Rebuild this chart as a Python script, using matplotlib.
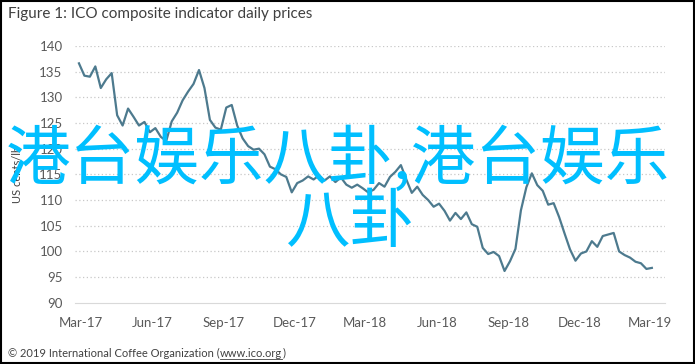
import matplotlib.pyplot as plt
import matplotlib.dates as mdates
import pandas as pd

# ICO composite indicator, weekly readings (US cents/lb)
start_date = '2017-02-27'
prices = [136.6, 134.2, 134.0, 136.0, 131.8, 133.5, 134.7, 126.5, 124.5, 127.8,
          126.2, 124.5, 125.2, 123.2, 124.0, 122.3, 121.5, 125.3, 127.0, 129.4,
          131.1, 132.6, 135.3, 131.8, 125.6, 124.1, 123.7, 128.0, 128.5, 124.5,
          122.0, 120.5, 119.8, 120.0, 118.9, 116.5, 116.0, 115.0, 114.5, 111.5,
          113.3, 113.8, 114.6, 114.0, 114.8, 113.8, 114.6, 113.5, 114.4, 113.0,
          112.4, 113.0, 112.3, 111.5, 112.0, 113.3, 112.6, 114.5, 115.5, 116.8,
          114.0, 111.4, 112.6, 111.0, 110.0, 108.7, 109.3, 107.9, 106.0, 107.5,
          106.3, 107.6, 105.3, 104.8, 100.7, 99.5, 99.9, 99.1, 96.2, 98.1,
          100.5, 108.0, 112.5, 115.2, 112.9, 111.8, 109.1, 109.4, 106.7, 103.5,
          100.4, 98.2, 99.6, 100.0, 102.0, 100.9, 103.0, 103.3, 103.6, 100.0,
          99.3, 98.8, 98.0, 97.7, 96.6, 96.8]
dates = pd.date_range(start_date, periods=len(prices), freq='7D')

y_ticks = [90, 95, 100, 105, 110, 115, 120, 125, 130, 135, 140]
x_ticks = pd.date_range('2017-03-01', '2019-03-01', freq='3MS')

plt.rcParams['font.family'] = ['Lato', 'DejaVu Sans']

fig = plt.figure(figsize=(6.95, 3.64), dpi=100)
ax = fig.add_axes([0.108, 0.168, 0.849, 0.706])

ax.plot(dates, prices, color='#4d7a8e', linewidth=1.6)

ax.set_ylim(90, 140)
ax.set_yticks(y_ticks)
ax.set_xlim(pd.Timestamp('2017-02-22'), pd.Timestamp('2019-03-21'))
ax.set_xticks(x_ticks)
ax.xaxis.set_major_formatter(mdates.DateFormatter('%b-%y'))
ax.tick_params(length=0, labelsize=9.5, labelcolor='#595959')
ax.tick_params(axis='x', pad=10)
ax.tick_params(axis='y', pad=9)

for t in y_ticks[1:]:
    ax.axhline(t, color='#c8c8c8', linestyle=(0, (1, 2)), linewidth=0.9, zorder=0)
for s in ['top', 'right', 'left']:
    ax.spines[s].set_visible(False)
ax.spines['bottom'].set_color('#d9d9d9')

ax.set_ylabel('US cents/lb', fontsize=8, color='#404040', labelpad=12)

fig.text(0.012, 0.962, 'Figure 1: ICO composite indicator daily prices',
         fontsize=11, color='#404040', va='center')
fig.text(0.012, 0.03, '\u00a9 2019 International Coffee Organization (',
         fontsize=8, color='#404040', va='center')
fig.canvas.draw()
r = fig.canvas.get_renderer()
bb = fig.texts[-1].get_window_extent(r)
x1 = bb.x1 / fig.bbox.width
link = fig.text(x1, 0.03, 'www.ico.org', fontsize=8, color='#404040', va='center')
bb2 = link.get_window_extent(r)
x2 = bb2.x1 / fig.bbox.width
fig.text(x2, 0.03, ')', fontsize=8, color='#404040', va='center')
fig.add_artist(plt.Line2D([x1, x2], [0.013, 0.013], color='#404040', linewidth=0.6))

# overlay text
cjk = ['Noto Sans CJK SC', 'DejaVu Sans']
fig.text(0.486, 0.558, '港台娱乐八卦,港台娱乐', fontsize=46.5, color='#00bfff',
         ha='center', va='center', family=cjk)
fig.text(0.505, 0.385, '八卦', fontsize=46.5, color='#00bfff',
         ha='center', va='center', family=cjk)

# frame round the picture
fig.patches.append(plt.Rectangle((0.001, 0.002), 0.997, 0.996, transform=fig.transFigure,
                                 fill=False, edgecolor='black', linewidth=1.5))

fig.savefig('out.png', dpi=100)
